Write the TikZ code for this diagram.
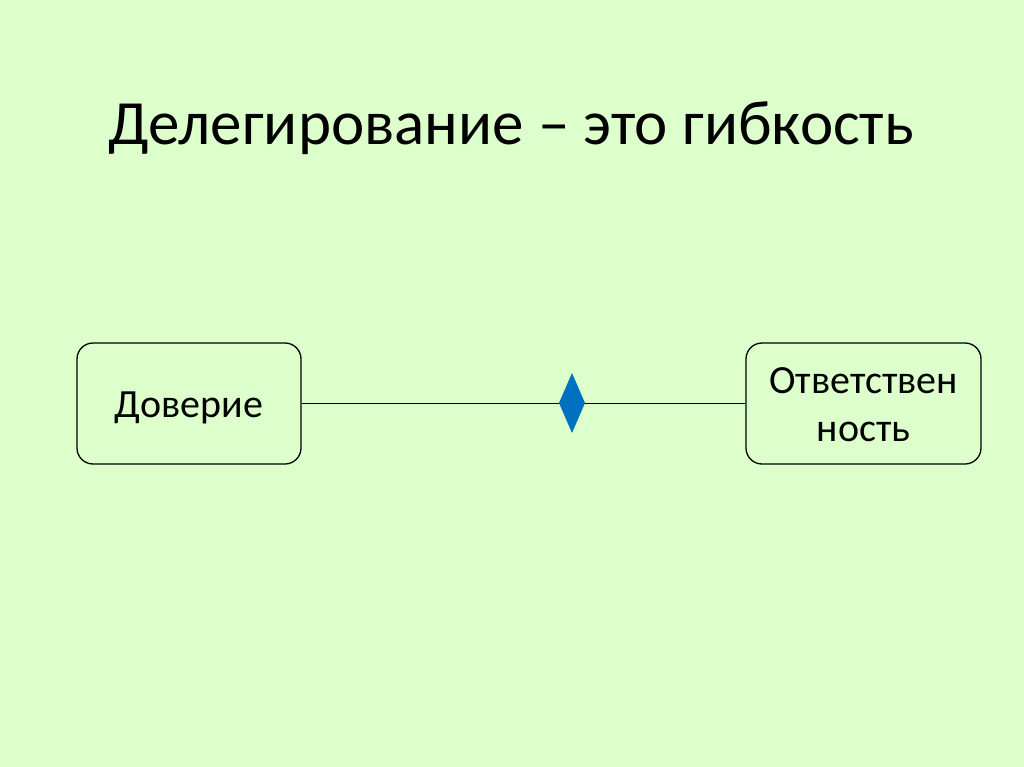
\documentclass[tikz,border=0pt]{standalone}
\usepackage{fontspec}
\setmainfont{Carlito}
\definecolor{bg}{RGB}{221,255,204}
\definecolor{dblue}{RGB}{0,112,192}
\tikzset{
  box/.style={draw=black, line width=1.3pt, rounded corners=16pt, fill=bg, align=center, font=\fontsize{40}{48}\selectfont, inner sep=0pt},
  link/.style={draw=black, line width=1pt}
}
\newcommand{\lowered}[1]{\raisebox{0pt}[\dimexpr\height+8pt\relax][\depth]{\begin{tabular}{@{}c@{}}#1\end{tabular}}}
\begin{document}
\begin{tikzpicture}[x=1pt,y=-1pt]
\fill[bg] (0,0) rectangle (1024,767);
\useasboundingbox (0,0) rectangle (1024,767);
\node[font=\fontsize{63}{70}\selectfont] (title) at (511,128) {Делегирование – это гибкость};
\node[box, minimum width=224pt, minimum height=121pt] (a) at (189,403.5) {\lowered{Доверие}};
\node[box, minimum width=235pt, minimum height=121pt] (b) at (863.5,403.5) {\lowered{Ответствен\\[0pt]ность}};
\coordinate (d) at (572,403);
\draw[link] (a.east) -- (b.west);
\fill[dblue] ([yshift=-30pt]d) -- ([xshift=13pt]d) -- ([yshift=30pt]d) -- ([xshift=-13pt]d) -- cycle;
\end{tikzpicture}
\end{document}
